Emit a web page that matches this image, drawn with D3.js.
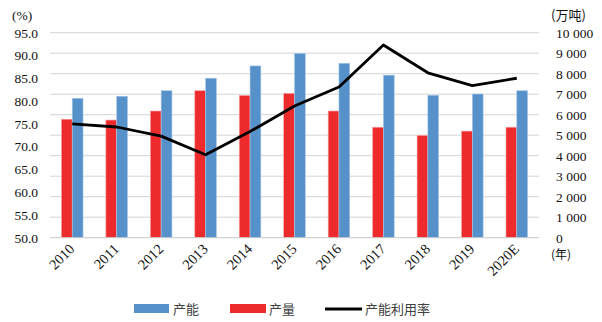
<!DOCTYPE html>
<html><head><meta charset="utf-8">
<script src="https://cdn.jsdelivr.net/npm/d3@7/dist/d3.min.js"></script>
<style>
body{margin:0;background:#fff;}
svg{display:block;}
</style></head>
<body><svg id="c" width="602" height="322"></svg>
<script>
const years = ["2010","2011","2012","2013","2014","2015","2016","2017","2018","2019","2020E"];
const capacity = [6800, 6900, 7170, 7780, 8380, 8990, 8510, 7930, 6950, 7010, 7170];
const output = [5780, 5740, 6180, 7170, 6940, 7040, 6180, 5390, 4990, 5200, 5390];
const utilization = [75.0, 74.3, 72.3, 68.2, 73.3, 78.9, 83.1, 92.3, 86.2, 83.4, 85.0];
const leftTicks = [50,55,60,65,70,75,80,85,90,95];
const rightTicks = [0,1000,2000,3000,4000,5000,6000,7000,8000,9000,10000];

const svg = d3.select("#c");
const L = 50, R = 539, T = 32.7, B = 237.7;
const serif = "'Liberation Serif','Times New Roman',serif";
const cjk = "'Noto Sans CJK SC',sans-serif";

const x = d3.scaleBand().domain(years).range([L, R]).padding(0);
const inner = d3.scaleBand().domain(["output","capacity"]).range([x.bandwidth()/2 - 10.8, x.bandwidth()/2 + 10.8]).padding(0);
const yR = d3.scaleLinear().domain([0, 10000]).range([B, T]);
const yL = d3.scaleLinear().domain([50, 95]).range([B, T]);

// gridlines
svg.append("g").selectAll("line").data(rightTicks.filter(d => d > 0)).join("line")
  .attr("x1", L).attr("x2", R).attr("y1", d => yR(d)).attr("y2", d => yR(d))
  .attr("stroke", "#d4d4d4").attr("stroke-width", 1);

// bars
const colors = {capacity: "#5692c9", output: "#ee2b2c"};
const strokes = {capacity: "#aac7e6", output: "#f7a9a9"};
const series = [{key:"output", vals: output}, {key:"capacity", vals: capacity}];
series.forEach(s => {
  svg.append("g").selectAll("rect").data(years).join("rect")
    .attr("x", (d) => x(d) + inner(s.key))
    .attr("width", inner.bandwidth())
    .attr("y", (d, i) => yR(s.vals[i]))
    .attr("height", (d, i) => B - yR(s.vals[i]))
    .attr("fill", colors[s.key])
    .attr("stroke", strokes[s.key]).attr("stroke-width", 0.6);
});

// baseline
svg.append("line").attr("x1", L).attr("x2", R).attr("y1", B).attr("y2", B)
  .attr("stroke", "#c8c8c8").attr("stroke-width", 1);

// line
const line = d3.line().x((d, i) => x(years[i]) + x.bandwidth()/2).y(d => yL(d));
svg.append("path").datum(utilization).attr("d", line)
  .attr("fill", "none").attr("stroke", "#000").attr("stroke-width", 2.8)
  .attr("stroke-linejoin", "round");

// left axis
const axL = d3.axisLeft(yL).tickValues(leftTicks).tickFormat(d3.format(".1f")).tickSize(0).tickPadding(0);
const gL = svg.append("g").attr("transform", `translate(38,0)`).call(axL);
gL.select(".domain").remove();
gL.selectAll("text").attr("font-family", serif).attr("font-size", 13.5).attr("fill", "#111");

// right axis
const fmt = d => d3.format(",")(d).replace(/,/g, " ");
const axR = d3.axisRight(yR).tickValues(rightTicks).tickFormat(fmt).tickSize(0).tickPadding(0);
const gR = svg.append("g").attr("transform", `translate(556,0)`).call(axR);
gR.select(".domain").remove();
gR.selectAll("text").attr("font-family", serif).attr("font-size", 13.5).attr("fill", "#111");

// x axis labels
const axX = d3.axisBottom(x).tickSize(0).tickPadding(0);
const gX = svg.append("g").attr("transform", `translate(0,${B})`).call(axX);
gX.select(".domain").remove();
gX.selectAll("text")
  .attr("font-family", serif).attr("font-size", 14.5).attr("fill", "#111")
  .attr("text-anchor", "end")
  .attr("transform", "translate(-4,5) rotate(-45)")
  .attr("dy", "0.7em").attr("dx", "0");

// unit labels
svg.append("text").attr("x", 12).attr("y", 20).text("(%)")
  .attr("font-family", serif).attr("font-size", 13.5).attr("fill", "#111");
svg.append("text").attr("x", 551).attr("y", 20).text("(万吨)")
  .attr("font-family", cjk).attr("font-size", 13).attr("fill", "#111");
svg.append("text").attr("x", 551).attr("y", 259).text("(年)")
  .attr("font-family", cjk).attr("font-size", 12).attr("fill", "#111");

// legend
const lg = svg.append("g");
lg.append("rect").attr("x", 134).attr("y", 304).attr("width", 35).attr("height", 9).attr("fill", colors.capacity);
lg.append("text").attr("x", 173).attr("y", 313.5).text("产能").attr("font-family", cjk).attr("font-size", 13).attr("fill", "#404040");
lg.append("rect").attr("x", 230).attr("y", 304).attr("width", 36).attr("height", 9).attr("fill", colors.output);
lg.append("text").attr("x", 269).attr("y", 313.5).text("产量").attr("font-family", cjk).attr("font-size", 13).attr("fill", "#404040");
lg.append("line").attr("x1", 325).attr("x2", 362).attr("y1", 309).attr("y2", 309).attr("stroke", "#000").attr("stroke-width", 3);
lg.append("text").attr("x", 365).attr("y", 313.5).text("产能利用率").attr("font-family", cjk).attr("font-size", 13).attr("fill", "#404040");
</script>
</body></html>
